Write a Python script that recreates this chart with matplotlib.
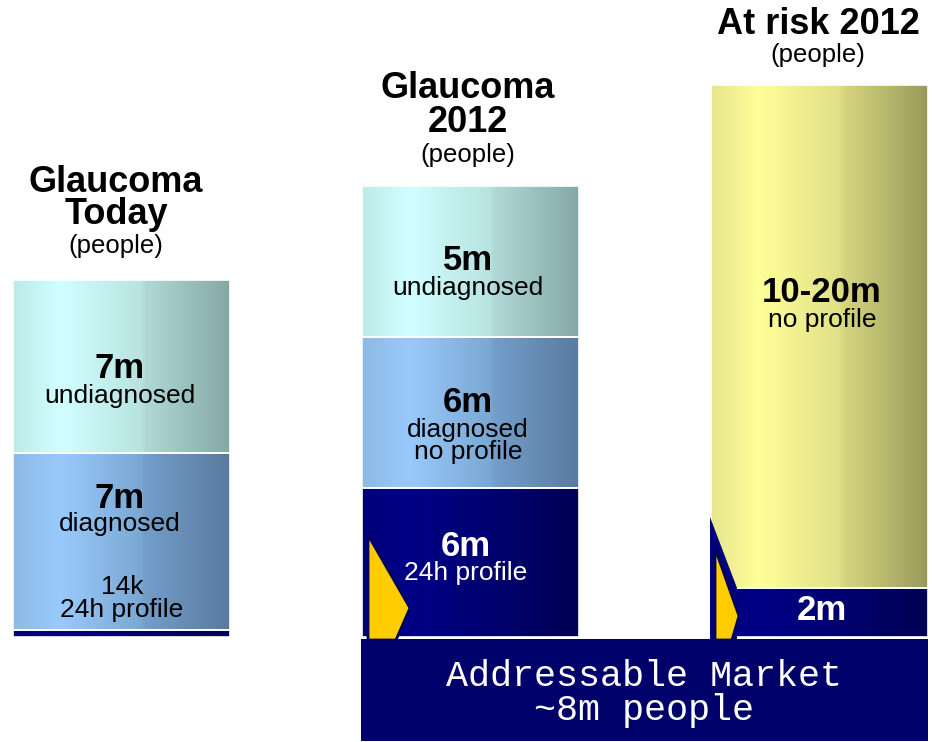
import numpy as np
import matplotlib
matplotlib.use("Agg")
import matplotlib.pyplot as plt
from matplotlib.patches import Rectangle, Polygon
from matplotlib.colors import LinearSegmentedColormap

# ---- data ----
categories = ["Glaucoma\nToday", "Glaucoma\n2012", "At risk 2012"]
# segment display heights (bottom -> top)
today_heights = [7, 177, 173]
y2012_heights = [149, 151, 151]
risk_heights = [49, 503]
today_labels = [("", ""), ("7m", "diagnosed"), ("7m", "undiagnosed")]
y2012_labels = [("6m", "24h profile"), ("6m", "diagnosed\nno profile"), ("5m", "undiagnosed")]
risk_labels = [("2m", ""), ("10-20m", "no profile")]
market_text = ["Addressable Market", "~8m people"]

W, H = 932, 742
fig = plt.figure(figsize=(W / 100, H / 100), dpi=100)
ax = fig.add_axes([0, 0, 1, 1])
ax.set_xlim(0, W)
ax.set_ylim(0, H)
ax.axis("off")

FONT = "Liberation Sans"

def grad_cmap(name, stops):
    return LinearSegmentedColormap.from_list(name, stops)

cyan = grad_cmap("cyan", [(0, (0.74, 0.92, 0.91)), (0.22, (0.82, 1.0, 1.0)),
                          (0.59, (0.72, 0.89, 0.88)), (0.61, (0.69, 0.85, 0.84)),
                          (1, (0.52, 0.66, 0.65))])
blue = grad_cmap("blue", [(0, (0.55, 0.73, 0.90)), (0.22, (0.60, 0.79, 0.99)),
                          (0.59, (0.48, 0.66, 0.83)), (0.61, (0.45, 0.62, 0.79)),
                          (1, (0.35, 0.48, 0.62))])
navy = grad_cmap("navy", [(0, (0, 0, 0.47)), (0.22, (0, 0, 0.53)), (1, (0, 0, 0.33))])
yellow = grad_cmap("yellow", [(0, (0.90, 0.90, 0.56)), (0.22, (1.0, 1.0, 0.60)),
                              (0.59, (0.88, 0.88, 0.53)), (0.61, (0.84, 0.84, 0.50)),
                              (1, (0.60, 0.60, 0.36))])
gradient = np.linspace(0, 1, 256).reshape(1, -1)

base = 105
centers = [121.5, 470.5, 819.5]
width = 217

def draw_stack(xc, heights, cmaps):
    bottoms = np.concatenate([[0], np.cumsum(heights)[:-1]]) + base
    bars = ax.bar([xc] * len(heights), heights, width=width, bottom=bottoms,
                  facecolor="none", edgecolor="white", linewidth=1.2, zorder=3)
    for patch, cm in zip(bars, cmaps):
        x0, y0 = patch.get_x(), patch.get_y()
        im = ax.imshow(gradient, cmap=cm, aspect="auto", zorder=2,
                       extent=[x0, x0 + patch.get_width(), y0, y0 + patch.get_height()])
        im.set_clip_path(patch)
    return bottoms

draw_stack(centers[0], today_heights, [navy, blue, cyan])
draw_stack(centers[1], y2012_heights, [navy, blue, cyan])
draw_stack(centers[2], risk_heights, [navy, yellow])
ax.set_xlim(0, W)
ax.set_ylim(0, H)

def P(pts):
    return [(x, H - y) for x, y in pts]

# navy wedge on at-risk bar
ax.add_patch(Polygon(P([(710, 517), (737, 588), (737, 640), (710, 640)]),
                     closed=True, facecolor="#00007a", edgecolor="none", zorder=4))
# yellow chevrons
ax.add_patch(Polygon(P([(368, 535), (410, 608), (396, 640), (368, 640)]),
                     closed=True, facecolor="#ffcc00", edgecolor="#000060", linewidth=2, zorder=5))
ax.add_patch(Polygon(P([(715, 548), (739, 616), (732, 640), (715, 640)]),
                     closed=True, facecolor="#ffcc00", edgecolor="#000060", linewidth=2, zorder=5))

# addressable market box
ax.add_patch(Rectangle((361, H - 741), 567, 102, facecolor="#00006b",
                       edgecolor="none", zorder=6))

def T(x, p, s, size, bold=False, color="black", family=FONT):
    ax.text(x, H - p - 2, s, ha="center", va="center", fontsize=size,
            fontweight="bold" if bold else "normal", color=color,
            family=family, zorder=8)

# titles
T(116, 180, "Glaucoma", 26, True)
T(116, 213, "Today", 26, True)
T(116, 244, "(people)", 18.5)
T(468, 87, "Glaucoma", 26, True)
T(468, 121, "2012", 26, True)
T(468, 153, "(people)", 18.5)
T(818, 22, "At risk 2012", 26, True)
T(818, 53, "(people)", 18.5)

# left bar labels
T(120, 367, today_labels[2][0], 25, True)
T(120, 394, today_labels[2][1], 19)
T(120, 496, today_labels[1][0], 25, True)
T(120, 522, today_labels[1][1], 19)
T(122, 585, "14k", 19)
T(122, 608, "24h profile", 19)

# middle bar labels
T(468, 258, y2012_labels[2][0], 25, True)
T(468, 286, y2012_labels[2][1], 19)
T(468, 401, y2012_labels[1][0], 25, True)
l1, l2 = y2012_labels[1][1].split("\n")
T(468, 428, l1, 19)
T(468, 450, l2, 19)
T(466, 544, y2012_labels[0][0], 25, True, "white")
T(466, 571, y2012_labels[0][1], 19, False, "white")

# right bar labels
T(822, 291, risk_labels[1][0], 25, True)
T(822, 318, risk_labels[1][1], 19)
T(822, 609, risk_labels[0][0], 25, True, "white")

# market text
T(644, 674, market_text[0], 26.5, False, "white", "Liberation Mono")
T(644, 709, market_text[1], 26.5, False, "white", "Liberation Mono")

fig.savefig("out.png", dpi=100)
